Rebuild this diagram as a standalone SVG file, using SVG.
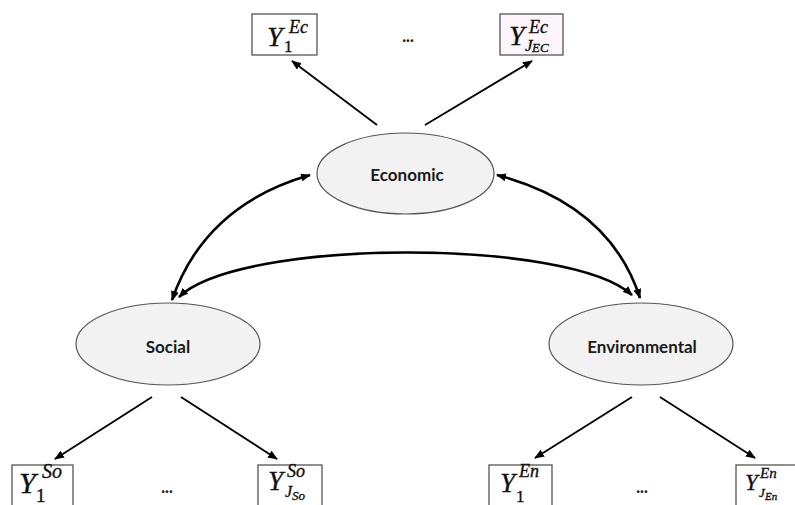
<svg xmlns="http://www.w3.org/2000/svg" width="795" height="505" viewBox="0 0 795 505">
  <style>
    .latent { fill: #f2f2f2; stroke: #555555; stroke-width: 1.2; }
    .label { font-family: Lato, "Liberation Sans", sans-serif; font-weight: bold; font-size: 17px; fill: #1a1a1a; text-anchor: middle; }
    .box { fill: #ffffff; stroke: #555555; stroke-width: 1.3; }
    .m { font-family: "Liberation Serif", "DejaVu Serif", serif; font-style: italic; fill: #111111; stroke: #111111; stroke-width: 0.35; }
    .up { font-style: normal; }
    .dots { font-family: Lato, "Liberation Sans", sans-serif; font-weight: 900; font-size: 16px; fill: #222222; text-anchor: middle; }
    .arrow { fill: none; stroke: #000000; stroke-width: 1.8; }
    .cov { fill: none; stroke: #000000; stroke-width: 2.6; }
  </style>
  <defs>
    <marker id="head" viewBox="0 0 10 8" refX="9" refY="4" markerWidth="10" markerHeight="8" markerUnits="userSpaceOnUse" orient="auto-start-reverse">
      <path d="M0,0 L10,4 L0,8 z" fill="#000000"/>
    </marker>
  </defs>

  <!-- connectors: loadings (straight) and factor covariances (curved, two-headed) -->
  <g id="connectors">
    <line class="arrow" x1="377" y1="125" x2="292" y2="61" marker-end="url(#head)"/>
    <line class="arrow" x1="425" y1="125" x2="532" y2="61" marker-end="url(#head)"/>
    <line class="arrow" x1="152" y1="397" x2="55" y2="459" marker-end="url(#head)"/>
    <line class="arrow" x1="181" y1="397" x2="277" y2="459" marker-end="url(#head)"/>
    <line class="arrow" x1="632" y1="397" x2="535" y2="458" marker-end="url(#head)"/>
    <line class="arrow" x1="660" y1="397" x2="755" y2="458" marker-end="url(#head)"/>
    <path class="cov" d="M172,300 Q205,205 310,175" marker-start="url(#head)" marker-end="url(#head)"/>
    <path class="cov" d="M640,298 Q610,205 497,175" marker-start="url(#head)" marker-end="url(#head)"/>
    <path class="cov" d="M179,297 C240,238 570,238 632,295" marker-start="url(#head)" marker-end="url(#head)"/>
  </g>

  <!-- latent factors -->
  <g id="economic">
    <ellipse class="latent" cx="405.5" cy="173.5" rx="88.5" ry="40.5"/>
    <text class="label" x="407" y="181">Economic</text>
  </g>
  <g id="social">
    <ellipse class="latent" cx="168" cy="344" rx="92" ry="41"/>
    <text class="label" x="168" y="353">Social</text>
  </g>
  <g id="environmental">
    <ellipse class="latent" cx="641" cy="344" rx="92" ry="41"/>
    <text class="label" x="642" y="353">Environmental</text>
  </g>

  <!-- economic indicators -->
  <g id="y1-ec">
    <rect class="box" x="252" y="14" width="65" height="41"/>
    <text class="m"><tspan x="267" y="46" font-size="28">Y</tspan><tspan class="up" x="284" y="52" font-size="17">1</tspan><tspan x="289" y="33" font-size="18">Ec</tspan></text>
  </g>
  <g id="dots-ec"><text class="dots" x="408" y="42">...</text></g>
  <g id="yj-ec">
    <rect class="box" x="500" y="14" width="63" height="41" style="fill:#fcf6fc"/>
    <text class="m"><tspan x="509" y="45" font-size="28">Y</tspan><tspan x="529" y="33" font-size="18">Ec</tspan><tspan x="525" y="51" font-size="17">J</tspan><tspan x="532" y="52" font-size="13">EC</tspan></text>
  </g>

  <!-- social indicators -->
  <g id="y1-so">
    <rect class="box" x="12" y="465" width="61" height="45"/>
    <text class="m"><tspan x="19" y="493" font-size="30">Y</tspan><tspan class="up" x="36" y="502" font-size="19">1</tspan><tspan x="42" y="478" font-size="20">So</tspan></text>
  </g>
  <g id="dots-so"><text class="dots" x="167" y="493">...</text></g>
  <g id="yj-so">
    <rect class="box" x="258" y="465" width="64" height="45"/>
    <text class="m"><tspan x="268" y="490" font-size="27">Y</tspan><tspan x="287" y="477" font-size="18">So</tspan><tspan x="285" y="497" font-size="16">J</tspan><tspan x="292" y="500" font-size="13">So</tspan></text>
  </g>

  <!-- environmental indicators -->
  <g id="y1-en">
    <rect class="box" x="489" y="465" width="63" height="45"/>
    <text class="m"><tspan x="500" y="492" font-size="27">Y</tspan><tspan class="up" x="516" y="502" font-size="17">1</tspan><tspan x="519" y="477" font-size="18">En</tspan></text>
  </g>
  <g id="dots-en"><text class="dots" x="642" y="493">...</text></g>
  <g id="yj-en">
    <rect class="box" x="736" y="465" width="64" height="45"/>
    <text class="m"><tspan x="745" y="490" font-size="23">Y</tspan><tspan x="760" y="478" font-size="15">En</tspan><tspan x="759" y="497" font-size="13">J</tspan><tspan x="765" y="500" font-size="11">En</tspan></text>
  </g>
</svg>
